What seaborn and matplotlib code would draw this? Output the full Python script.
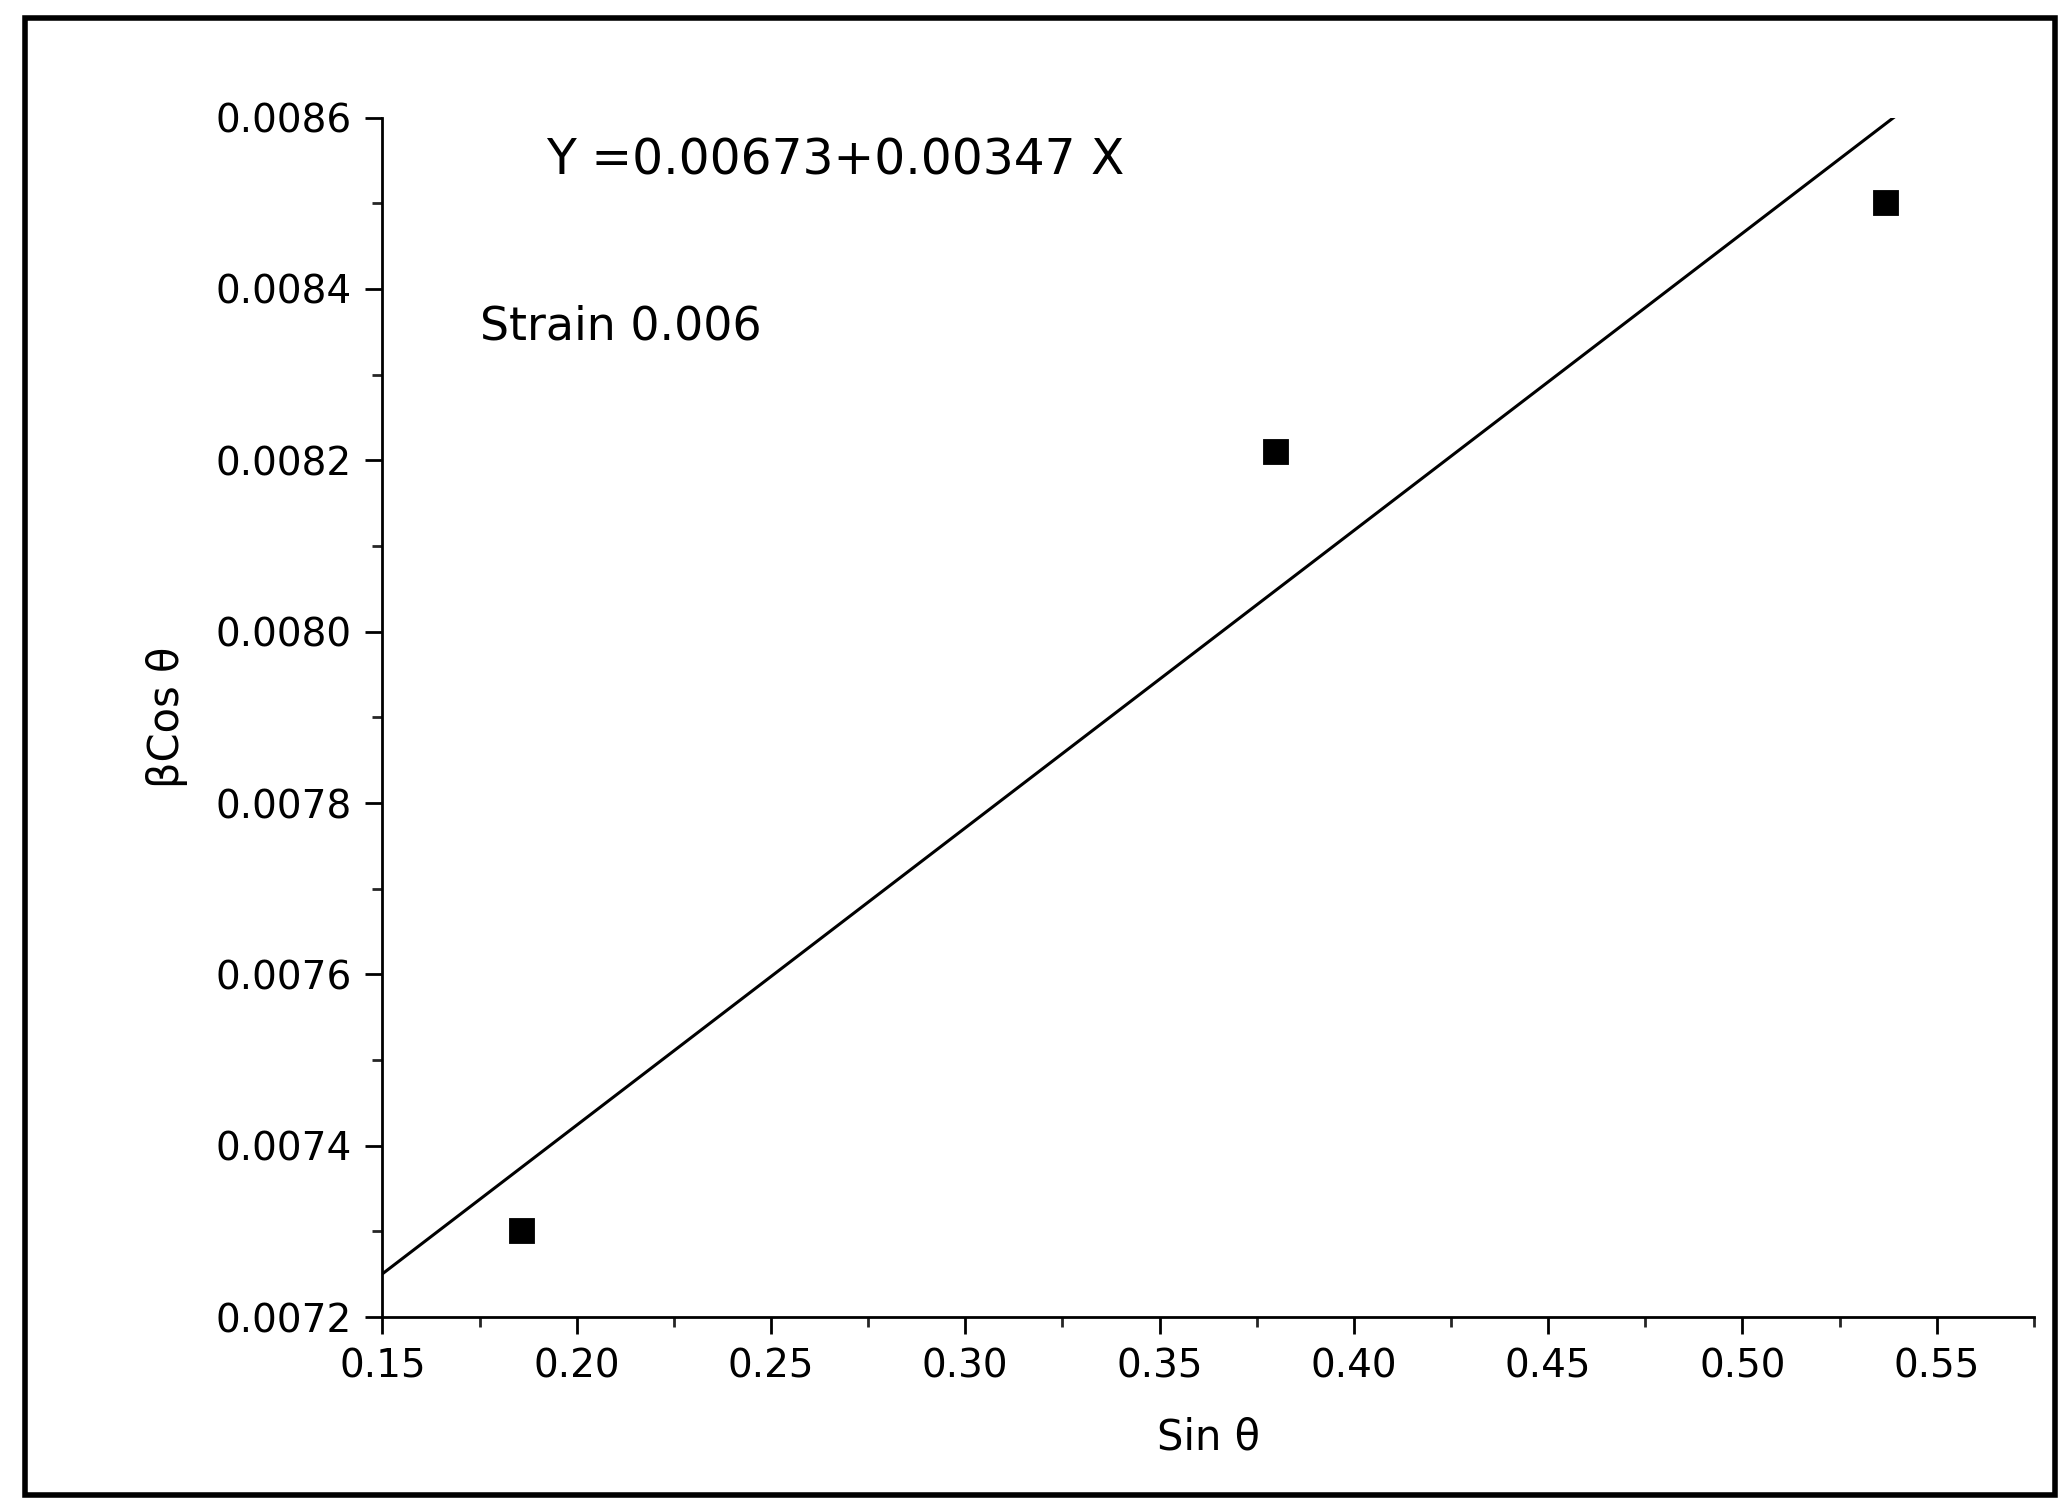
import numpy as np
import pandas as pd
import matplotlib
matplotlib.use('Agg')
import matplotlib.pyplot as plt
from matplotlib.ticker import MultipleLocator
from matplotlib.patches import Rectangle
import seaborn as sns

sin_theta = [0.186, 0.380, 0.537]
beta_cos = [0.00730, 0.00821, 0.00850]
intercept = 0.00673
slope = 0.00347
line_x = [0.15, 0.54]

sns.set_style('white')
plt.rcParams['font.family'] = ['DejaVu Sans']

fig = plt.figure(figsize=(20.67, 15.07), dpi=100)
ax = fig.add_axes([0.185, 0.126, 0.799, 0.796])

df = pd.DataFrame({'x': sin_theta, 'y': beta_cos})
sns.scatterplot(data=df, x='x', y='y', marker='s', s=380, color='black', ax=ax, zorder=3)
lx = np.array(line_x)
sns.lineplot(x=lx, y=intercept + slope * lx, color='black', lw=2.2, ax=ax)

ax.set_xlim(0.15, 0.575)
ax.set_ylim(0.0072, 0.0086)
ax.xaxis.set_minor_locator(MultipleLocator(0.025))
ax.yaxis.set_minor_locator(MultipleLocator(0.0001))
ax.set_xticks(np.arange(0.15, 0.551, 0.05))
ax.set_xticklabels([f'{v:.2f}' for v in np.arange(0.15, 0.551, 0.05)])
ax.set_yticks(np.arange(0.0072, 0.00861, 0.0002))
ax.set_yticklabels([f'{v:.4f}' for v in np.arange(0.0072, 0.00861, 0.0002)])
ax.tick_params(axis='both', which='major', direction='out', length=12, width=2, pad=10,
               labelsize=28, colors='black', bottom=True, left=True)
ax.tick_params(axis='both', which='minor', direction='out', length=7, width=2,
               bottom=True, left=True)
for s in ['top', 'right']:
    ax.spines[s].set_visible(False)
for s in ['left', 'bottom']:
    ax.spines[s].set_linewidth(2)
    ax.spines[s].set_color('black')

ax.set_xlabel('Sin θ', fontsize=30, labelpad=22, color='black')
ax.set_ylabel('βCos θ', fontsize=30, labelpad=20, color='black')
ax.text(0.192, 0.00855, 'Y =0.00673+0.00347 X', fontsize=35, va='center', color='black')
ax.text(0.175, 0.008355, 'Strain 0.006', fontsize=33, va='center', color='black')

fig.patches.append(Rectangle((0.012, 0.008), 0.982, 0.98, transform=fig.transFigure,
                             fill=False, edgecolor='black', lw=4))

fig.savefig('out.png', dpi=100)
